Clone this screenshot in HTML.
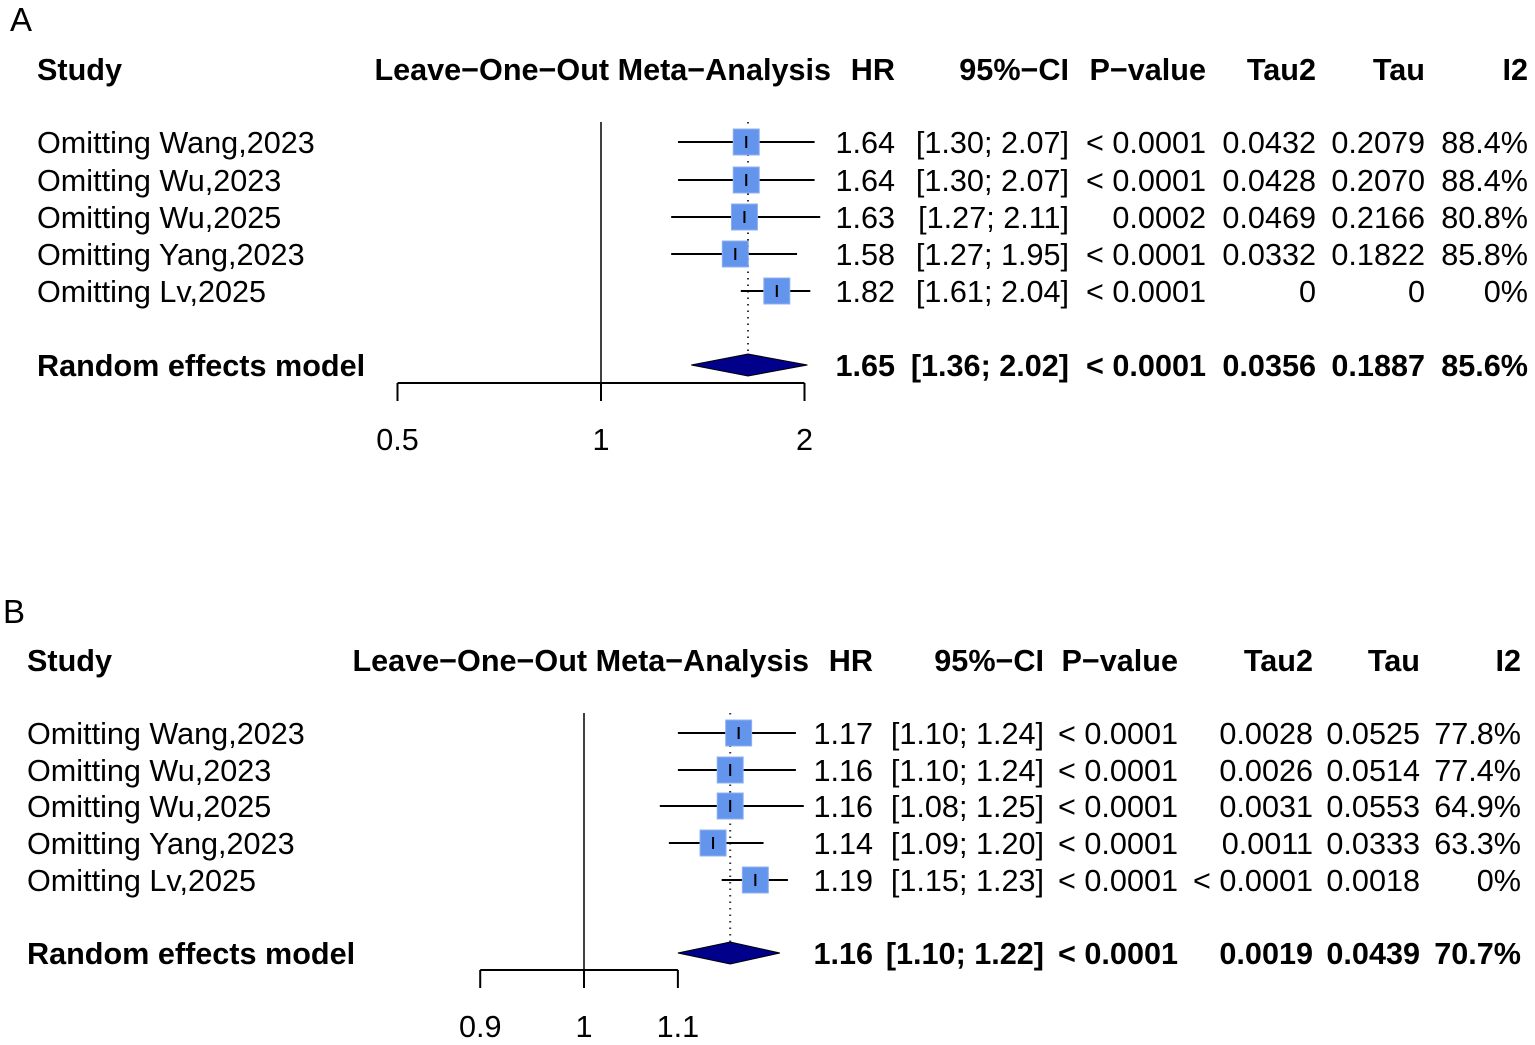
<!DOCTYPE html>
<html><head><meta charset="utf-8"><style>
body{margin:0;background:#fff}
svg{display:block;font-family:"Liberation Sans",sans-serif}
</style></head><body>
<svg id="svg" width="1535" height="1045"></svg>
<script>
const studies = ["Omitting Wang,2023","Omitting Wu,2023","Omitting Wu,2025","Omitting Yang,2023","Omitting Lv,2025"];
const hrA = [1.64,1.64,1.63,1.58,1.82];
const loA = [1.30,1.30,1.27,1.27,1.61];
const hiA = [2.07,2.07,2.11,1.95,2.04];
const pA = ["< 0.0001","< 0.0001","0.0002","< 0.0001","< 0.0001"];
const tau2A = ["0.0432","0.0428","0.0469","0.0332","0"];
const tauA = ["0.2079","0.2070","0.2166","0.1822","0"];
const i2A = ["88.4%","88.4%","80.8%","85.8%","0%"];
const sumA = [1.65,1.36,2.02];
const sumTextA = ["1.65","[1.36; 2.02]","< 0.0001","0.0356","0.1887","85.6%"];
const ticksA = [0.5,1,2];
const tickLabelsA = ["0.5","1","2"];

const hrB = [1.17,1.16,1.16,1.14,1.19];
const loB = [1.10,1.10,1.08,1.09,1.15];
const hiB = [1.24,1.24,1.25,1.20,1.23];
const pB = ["< 0.0001","< 0.0001","< 0.0001","< 0.0001","< 0.0001"];
const tau2B = ["0.0028","0.0026","0.0031","0.0011","< 0.0001"];
const tauB = ["0.0525","0.0514","0.0553","0.0333","0.0018"];
const i2B = ["77.8%","77.4%","64.9%","63.3%","0%"];
const sumB = [1.16,1.10,1.22];
const sumTextB = ["1.16","[1.10; 1.22]","< 0.0001","0.0019","0.0439","70.7%"];
const ticksB = [0.9,1,1.1];
const tickLabelsB = ["0.9","1","1.1"];

const NS="http://www.w3.org/2000/svg";
const svg=document.getElementById('svg');
const FS=30.6;
function el(tag,attrs,parent,name){const e=document.createElementNS(NS,tag);for(const k in attrs)e.setAttribute(k,attrs[k]);


(parent||svg).appendChild(e);return e;}
function txt(x,y,s,anchor,bold,parent,name,fs){const t=el('text',{x:x,y:y,'font-size':fs||FS,'text-anchor':anchor,'font-weight':bold?'bold':'normal',fill:'#000'},parent,name);t.textContent=s;return t;}

function panel(cfg){
  const g=el('g',{},svg,'panel-'+cfg.label);
  txt(cfg.lx,cfg.ly,cfg.label,'start',false,g,'panel-label',33);
  const X=v=>cfg.x1+cfg.k*Math.log(v);
  const hy=cfg.hy;
  txt(cfg.studyX,hy,'Study','start',true,g,'study-header');
  const cols=cfg.cols;
  const heads=['Leave\u2212One\u2212Out Meta\u2212Analysis','HR','95%\u2212CI','P\u2212value','Tau2','Tau','I2'];
  heads.forEach((h,i)=>txt(cols[i],hy,h,'end',true,g,'column-header'));
  el('line',{x1:X(1),x2:X(1),y1:cfg.rows[0]-20,y2:cfg.axisY,stroke:'#000','stroke-width':1.5},g,'null-effect-line');
  el('line',{x1:X(cfg.sum[0]),x2:X(cfg.sum[0]),y1:cfg.rows[0]-20,y2:cfg.sumY-11,stroke:'#333','stroke-width':2,'stroke-dasharray':'1.5 5'},g,'summary-dotted-line');
  studies.forEach((s,i)=>{
    const y=cfg.rows[i];
    txt(cfg.studyX,y+11,s,'start',false,g,'study-label');
    el('line',{x1:X(cfg.lo[i]),x2:X(cfg.hi[i]),y1:y,y2:y,stroke:'#000','stroke-width':2},g,'ci-line');
    const cx=X(cfg.hr[i]);
    el('rect',{x:cx-13,y:y-13,width:26,height:26,fill:'#6495ed',stroke:'#8fb0f0','stroke-width':1},g,'study-square');
    el('line',{x1:cx,x2:cx,y1:y-6,y2:y+6,stroke:'#000','stroke-width':2},g,'point-estimate-tick');
    const vals=[cfg.hr[i].toFixed(2),'['+cfg.lo[i].toFixed(2)+'; '+cfg.hi[i].toFixed(2)+']',cfg.p[i],cfg.t2[i],cfg.t[i],cfg.i2[i]];
    vals.forEach((v,j)=>txt(cols[j+1],y+11,v,'end',false,g,'study-value'));
  });
  const sy=cfg.sumY;
  txt(cfg.studyX,sy+11,'Random effects model','start',true,g,'summary-label');
  el('polygon',{points:[X(cfg.sum[1]),sy,X(cfg.sum[0]),sy-11,X(cfg.sum[2]),sy,X(cfg.sum[0]),sy+11].join(','),fill:'#00008b',stroke:'#000','stroke-width':1},g,'summary-diamond');
  cfg.sumText.forEach((v,j)=>txt(cols[j+1],sy+11,v,'end',true,g,'summary-value'));
  const ax0=X(cfg.ticks[0]),ax1=X(cfg.ticks[cfg.ticks.length-1]);
  el('line',{x1:ax0,x2:ax1,y1:cfg.axisY,y2:cfg.axisY,stroke:'#000','stroke-width':2},g,'x-axis');
  cfg.ticks.forEach((t,i)=>{
    el('line',{x1:X(t),x2:X(t),y1:cfg.axisY,y2:cfg.axisY+18,stroke:'#000','stroke-width':2},g,'x-tick');
    txt(X(t),cfg.axisY+67,cfg.tickLabels[i],'middle',false,g,'x-tick-label');
  });
}
panel({label:'A',lx:10,ly:31,studyX:37,hy:80,cols:[831,895,1069,1206,1316,1425,1528],
  x1:601,k:203.5/Math.log(2),rows:[142,180,217,254,291],sumY:365,axisY:383,
  hr:hrA,lo:loA,hi:hiA,p:pA,t2:tau2A,t:tauA,i2:i2A,sum:sumA,sumText:sumTextA,ticks:ticksA,tickLabels:tickLabelsA});
panel({label:'B',lx:3,ly:623,studyX:27,hy:671,cols:[809,873,1044,1178,1313,1420,1521],
  x1:584,k:985,rows:[733,770,806,843,880],sumY:953,axisY:970,
  hr:hrB,lo:loB,hi:hiB,p:pB,t2:tau2B,t:tauB,i2:i2B,sum:sumB,sumText:sumTextB,ticks:ticksB,tickLabels:tickLabelsB});
</script>
</body></html>
